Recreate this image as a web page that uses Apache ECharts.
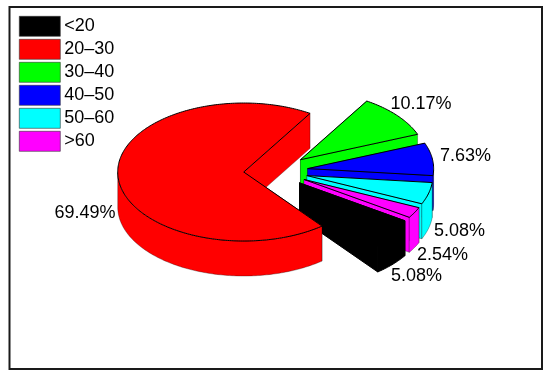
<!DOCTYPE html>
<html>
<head>
<meta charset="utf-8">
<style>
html,body{margin:0;padding:0;background:#fff;}
#main{width:550px;height:378px;}
</style>
<script src="https://cdn.jsdelivr.net/npm/echarts@6/dist/echarts.min.js"></script>
</head>
<body>
<div id="main"></div>
<script>
// data
var categories = ['<20', '20\u201330', '30\u201340', '40\u201350', '50\u201360', '>60'];
var counts = [6, 82, 12, 9, 6, 3];
var colors = ['#000000', '#ff0000', '#00ff00', '#0000ff', '#00ffff', '#ff00ff'];

// layout of the tilted pie
var cx = 275.8, cy = 171;
var rx = 126, ry = 69, depth = 35;
var explode = 0.255;
var startAngle = -33.3; // slices run clockwise from here
var drawOrder = [5, 6, 1, 2, 3, 4]; // back to front
// label offset from the middle of each slice's rim
var labelNudge = [[24, 47], [-33, 37], [24, -11], [33, -3], [31, 38], [28, 42]];

var total = counts.reduce(function (a, b) { return a + b; }, 0);

function sliceAngles(i) {
	var before = 0;
	for (var k = 0; k < i; k++) before += counts[k];
	var a0 = startAngle - before / total * 360;
	var a1 = a0 - counts[i] / total * 360;
	return [a0, a1];
}

function rimPoint(ox, oy, deg) {
	var r = deg * Math.PI / 180;
	return [ox + rx * Math.cos(r), oy - ry * Math.sin(r)];
}

function lower(p) {
	return [p[0], p[1] + depth];
}

function poly(points, color, width) {
	return {
		type: 'polygon',
		shape: { points: points },
		style: { fill: color, stroke: '#000', lineWidth: width, lineJoin: 'round' }
	};
}

function renderSlice(i, api) {
	var value = api.value(0);
	var ang = sliceAngles(i);
	var mid = (ang[0] + ang[1]) / 2 * Math.PI / 180;
	var ox = cx + explode * rx * Math.cos(mid);
	var oy = cy - explode * ry * Math.sin(mid);
	var apex = [ox, oy];
	var children = [];
	// thin wall lines, except on black where they would leave a light seam
	var wallLine = colors[i] === '#000000' ? 1 : 0.3;

	// rim points, one per degree or so
	var steps = Math.max(2, Math.ceil(ang[0] - ang[1]));
	var rim = [];
	for (var s = 0; s <= steps; s++) {
		rim.push(rimPoint(ox, oy, ang[0] + (ang[1] - ang[0]) * s / steps));
	}

	// the two cut faces
	[rim[0], rim[steps]].forEach(function (p) {
		children.push(poly([apex, p, lower(p), lower(apex)], colors[i], wallLine));
	});

	// outer wall, only where the rim faces the viewer
	var front = rim.filter(function (p) { return p[1] >= oy - 0.01; });
	if (front.length > 1) {
		var wall = front.concat(front.slice().reverse().map(lower));
		children.push(poly(wall, colors[i], wallLine));
	}

	// top face
	children.push(poly([apex].concat(rim), colors[i], 1));

	// percent label
	var midRim = rimPoint(ox, oy, (ang[0] + ang[1]) / 2);
	children.push({
		type: 'text',
		z2: 50,
		style: {
			text: (value / total * 100).toFixed(2) + '%',
			x: midRim[0] + labelNudge[i][0],
			y: midRim[1] + labelNudge[i][1],
			align: 'center',
			verticalAlign: 'middle',
			fill: '#000',
			font: '18px "Liberation Sans", Arial, sans-serif'
		}
	});
	return { type: 'group', children: children };
}

var series = categories.map(function (name, i) {
	return {
		name: name,
		type: 'custom',
		coordinateSystem: 'none',
		z: drawOrder[i],
		itemStyle: { color: colors[i] },
		renderItem: function (params, api) { return renderSlice(i, api); },
		data: [[counts[i]]]
	};
});

var myChart = echarts.init(document.getElementById('main'), null, { renderer: 'canvas' });
myChart.setOption({
	animation: false,
	backgroundColor: '#fff',
	graphic: [{
		type: 'rect',
		shape: { x: 9.5, y: 7, width: 532.5, height: 362 },
		style: { fill: 'none', stroke: '#1a1a1a', lineWidth: 2 },
		silent: true
	}],
	legend: {
		orient: 'vertical',
		left: 19,
		top: 16,
		padding: 0,
		itemWidth: 41,
		itemHeight: 20,
		itemGap: 2.4,
		icon: 'rect',
		selectedMode: false,
		data: categories,
		itemStyle: { borderColor: '#333', borderWidth: 0.6 },
		textStyle: { fontSize: 18, color: '#000', fontFamily: '"Liberation Sans", Arial, sans-serif', padding: [0, 0, 0, -1] }
	},
	series: series
});
</script>
</body>
</html>
